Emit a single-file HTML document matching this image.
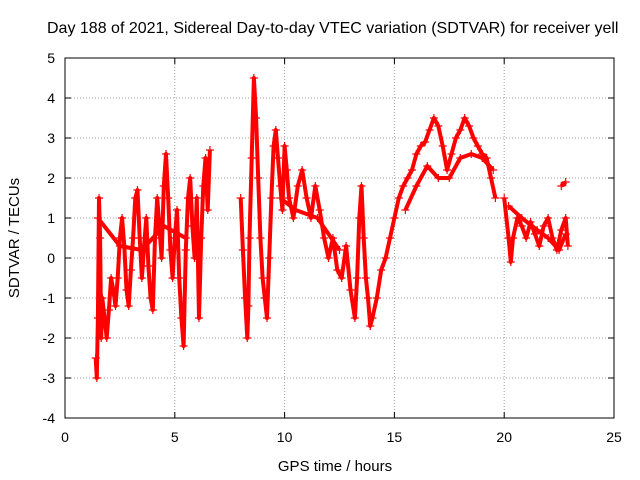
<!DOCTYPE html>
<html><head><meta charset="utf-8">
<style>
body{margin:0;background:#fff;}
svg{display:block;font-family:"Liberation Sans",sans-serif;}
</style></head>
<body>
<svg id="chart" width="640" height="480" viewBox="0 0 640 480">
<rect x="0" y="0" width="640" height="480" fill="#fff"/>
<text x="47" y="33" font-size="16" fill="#000">Day 188 of 2021, Sidereal Day-to-day VTEC variation (SDTVAR) for receiver yell</text>
<g id="grid"></g>
<g id="axes"></g>
<g id="marks"></g>
<text transform="translate(19,238) rotate(-90)" text-anchor="middle" font-size="15">SDTVAR / TECUs</text>
<text x="335" y="471" text-anchor="middle" font-size="15">GPS time / hours</text>
</svg>
<script>
const xTicks=[0,5,10,15,20,25];
const yTicks=[-4,-3,-2,-1,0,1,2,3,4,5];
// main trace (null = gap)
const times=[1.4,1.45,1.5,1.55,1.6,1.65,1.7,1.8,1.9,2.0,2.1,2.2,2.3,2.4,2.5,2.6,2.7,2.8,2.9,3.0,3.1,3.2,3.3,3.4,3.5,3.6,3.7,3.8,3.9,4.0,4.1,4.2,4.3,4.4,4.5,4.6,4.7,4.8,4.9,5.0,5.1,5.2,5.3,5.4,5.5,5.6,5.7,5.8,5.9,6.0,6.1,6.2,6.3,6.4,6.5,6.6,null,
8.0,8.1,8.2,8.3,8.35,8.4,8.5,8.6,8.7,8.8,8.9,9.0,9.1,9.2,9.3,9.4,9.5,9.6,9.7,9.8,9.9,10.0,10.1,10.2,10.4,10.6,10.8,11.0,11.2,11.4,11.6,11.8,12.0,12.2,12.4,12.6,12.8,13.0,13.2,13.3,13.4,13.5,13.6,13.7,13.8,13.9,14.0,14.2,14.4,14.6,14.8,15.0,15.2,15.4,15.6,15.8,16.0,16.2,16.4,16.6,16.8,17.0,17.2,17.4,17.6,17.8,18.0,18.2,18.4,18.6,18.8,19.0,19.2,19.4,19.6,null,
20.0,20.2,20.3,20.4,20.6,20.8,21.0,21.2,21.4,21.6,21.8,22.0,22.2,22.4,22.6,22.8,22.9];
const values=[-2.5,-3,-1.5,1.5,0.5,-2,-1,-1.5,-2,-1.3,-0.5,-0.8,-1.2,-0.5,0.5,1.0,0.3,-0.8,-1.2,-0.3,0.5,1.5,1.7,0.5,-0.5,0.3,1.0,-0.2,-1.0,-1.3,0.5,1.5,0.8,0.0,1.8,2.6,1.5,0.2,-0.5,0.5,1.2,-0.5,-1.5,-2.2,0.2,1.5,2.0,0.8,0.0,1.5,-1.5,0.5,1.8,2.5,1.2,2.7,null,
1.5,0.2,-1,-2,-1.2,0.5,2.5,4.5,3.5,2.0,0.5,-0.5,-1.0,-1.5,0.0,1.5,2.8,3.2,2.5,1.8,1.2,2.8,2.2,1.5,1.0,1.8,2.2,1.5,1.0,1.8,1.2,0.5,0.0,0.5,-0.3,-0.5,0.3,-0.8,-1.5,-0.5,1.0,1.8,0.5,-0.5,-1.0,-1.7,-1.5,-1.0,-0.3,0.0,0.5,1.0,1.5,1.8,2.0,2.2,2.6,2.8,2.9,3.2,3.5,3.3,2.8,2.2,2.6,3.0,3.2,3.5,3.3,3.0,2.8,2.6,2.5,2.0,1.5,null,
1.5,0.5,-0.1,0.5,1.0,0.8,0.5,0.9,0.6,0.3,0.8,1.0,0.5,0.2,0.7,1.0,0.3];
// secondary band
const times2=[1.5,2.5,3.5,4.5,5.5,null,9.8,10.5,11.5,12.5,null,15.5,16.0,16.5,17.0,17.5,18.0,18.5,19.0,19.5,null,20.2,20.8,21.5,22.0,22.5,22.8,null,22.6,22.8];
const values2=[1.0,0.3,0.2,0.8,0.5,null,1.5,1.2,1.0,0.2,null,1.2,1.8,2.3,2.0,2.0,2.5,2.6,2.5,2.2,null,1.3,1.0,0.7,0.5,0.2,0.6,null,1.8,1.9];

const X0=65,X1=614,Y0=418,Y1=58;
const xs=t=>X0+(t-0)/25*(X1-X0);
const ys=v=>Y0-(v+4)/9*(Y0-Y1);
const NS="http://www.w3.org/2000/svg";
function mk(tag,parent){const e=document.createElementNS(NS,tag);parent.appendChild(e);return e;}
const grid=document.getElementById('grid'),axes=document.getElementById('axes'),marks=document.getElementById('marks');
const frame=mk('rect',axes);


frame.setAttribute('x',X0);frame.setAttribute('y',Y1);frame.setAttribute('width',X1-X0);frame.setAttribute('height',Y0-Y1);
frame.setAttribute('fill','none');frame.setAttribute('stroke','#000');
xTicks.forEach(t=>{
 const x=xs(t);
 if(t>0&&t<25){const g=mk('line',grid);
 
 
 g.setAttribute('x1',x);g.setAttribute('x2',x);g.setAttribute('y1',Y1);g.setAttribute('y2',Y0);g.setAttribute('stroke','#a0a0a0');g.setAttribute('stroke-dasharray','1,2');}
 const tk=mk('text',axes);
 
 
 tk.setAttribute('x',x);tk.setAttribute('y',Y0+24);tk.setAttribute('text-anchor','middle');tk.setAttribute('font-size','14');tk.textContent=t;
 const l=mk('line',axes);l.setAttribute('x1',x);l.setAttribute('x2',x);l.setAttribute('y1',Y0);l.setAttribute('y2',Y0-6);l.setAttribute('stroke','#000');
 const l2=mk('line',axes);l2.setAttribute('x1',x);l2.setAttribute('x2',x);l2.setAttribute('y1',Y1);l2.setAttribute('y2',Y1+6);l2.setAttribute('stroke','#000');
});
yTicks.forEach(v=>{
 const y=ys(v);
 if(v>-4&&v<5){const g=mk('line',grid);
 
 
 g.setAttribute('x1',X0);g.setAttribute('x2',X1);g.setAttribute('y1',y);g.setAttribute('y2',y);g.setAttribute('stroke','#a0a0a0');g.setAttribute('stroke-dasharray','1,2');}
 const tk=mk('text',axes);
 
 
 tk.setAttribute('x',X0-10);tk.setAttribute('y',y+5);tk.setAttribute('text-anchor','end');tk.setAttribute('font-size','14');tk.textContent=v;
 const l=mk('line',axes);l.setAttribute('x1',X0);l.setAttribute('x2',X0+6);l.setAttribute('y1',y);l.setAttribute('y2',y);l.setAttribute('stroke','#000');
 const l2=mk('line',axes);l2.setAttribute('x1',X1);l2.setAttribute('x2',X1-6);l2.setAttribute('y1',y);l2.setAttribute('y2',y);l2.setAttribute('stroke','#000');
});
function drawSeries(T,V,name){
 let d='';let pen=false;
 T.forEach((t,i)=>{
  if(t===null||V[i]===null){pen=false;return;}
  d+=(pen?'L':'M')+xs(t).toFixed(1)+','+ys(V[i]).toFixed(1);pen=true;
 });
 const p=mk('path',marks);
 
 
 p.setAttribute('d',d);p.setAttribute('fill','none');p.setAttribute('stroke','#f00');p.setAttribute('stroke-width','4');p.setAttribute('stroke-linejoin','round');
 T.forEach((t,i)=>{
  if(t===null||V[i]===null)return;
  const x=xs(t),y=ys(V[i]);
  const m=mk('path',marks);
  
  
  m.setAttribute('d',`M${x-4},${y}H${x+4}M${x},${y-4}V${y+4}`);m.setAttribute('stroke','#f00');m.setAttribute('stroke-width','1.2');
 });
}
drawSeries(times2,values2,'sdtvar-band');
drawSeries(times,values,'sdtvar');
</script>
</body></html>
